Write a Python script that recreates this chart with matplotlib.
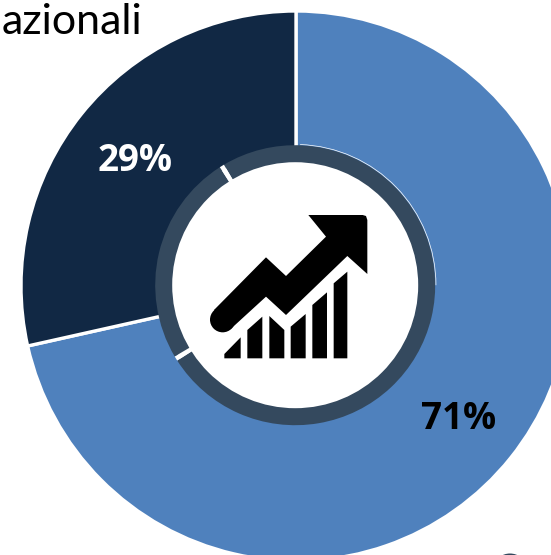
import matplotlib
matplotlib.use("Agg")
import matplotlib.pyplot as plt
from matplotlib.patches import Polygon, Circle, Ellipse, Arc

W, H = 551, 555
share_values = [71.5, 28.5]
share_labels = ["71%", "29%"]
share_colors = ["#4F81BD", "#112844"]
ring_values = [74.45, 0.55, 24.45, 0.55]
ring_colors = ["#34495E", "white", "#34495E", "white"]
title_text = "azionali"

fig = plt.figure(figsize=(W / 100, H / 100), dpi=100)
ax = fig.add_axes([0, 0, 1, 1])
CX, CY = 296, H - 286
RX, RY = 295.2, H - 285.2

ax.pie(share_values, colors=share_colors, startangle=90, counterclock=False,
       center=(CX, CY), radius=275, frame=True,
       wedgeprops=dict(width=140, edgecolor="white", linewidth=2.4))
ax.pie(ring_values, colors=ring_colors, startangle=120.6, counterclock=False,
       center=(RX, RY), radius=140, frame=True,
       wedgeprops=dict(width=18, edgecolor="none", zorder=3))
ax.add_patch(Arc((RX, RY), 281.5, 281.5, theta1=0, theta2=88, color="white", lw=0.5, zorder=3))
ax.add_patch(Circle((RX, RY), 123, fc="white", ec="none", zorder=4))

def z(pts):
    return [(140 + x / 3, H - (130 + y / 3)) for x, y in pts]

arrow = [(505, 255), (668, 255), (678, 258), (682, 270), (682, 432), (622, 378), (438, 555),
         (378, 500), (272, 597), (222, 540), (378, 382), (438, 438), (558, 320)]
bars = [
    [(253, 672), (302, 622), (302, 685), (253, 685)],
    [(322, 600), (367, 560), (367, 685), (322, 685)],
    [(388, 558), (433, 600), (433, 685), (388, 685)],
    [(452, 590), (497, 552), (497, 685), (452, 685)],
    [(517, 525), (561, 487), (561, 685), (517, 685)],
    [(581, 460), (622, 425), (622, 685), (581, 685)],
]
ax.add_patch(Polygon(z(arrow), closed=True, fc="black", ec="none", zorder=5))
ax.add_patch(Circle(z([(248, 569)])[0], 38 / 3, fc="black", ec="none", zorder=5))
for b in bars:
    ax.add_patch(Polygon(z(b), closed=True, fc="black", ec="none", zorder=5))

ax.text(135, H - 161, share_labels[1], color="white", fontsize=26.5, fontweight="bold",
        family="Open Sans", ha="center", va="center", zorder=6)
ax.text(458.5, H - 419, share_labels[0], color="black", fontsize=26.5, fontweight="bold",
        family="Open Sans", ha="center", va="center", zorder=6)
ax.text(142, H - 34, title_text, color="black", fontsize=31, family="Lato",
        ha="right", va="baseline", zorder=6)
ax.add_patch(Ellipse((510, H - 566), 30, 25, fc="#34495E", ec="none", zorder=6))

ax.set_xlim(0, W)
ax.set_ylim(0, H)
ax.set_aspect("auto")
ax.axis("off")
fig.savefig("out.png", dpi=100, facecolor="white")
